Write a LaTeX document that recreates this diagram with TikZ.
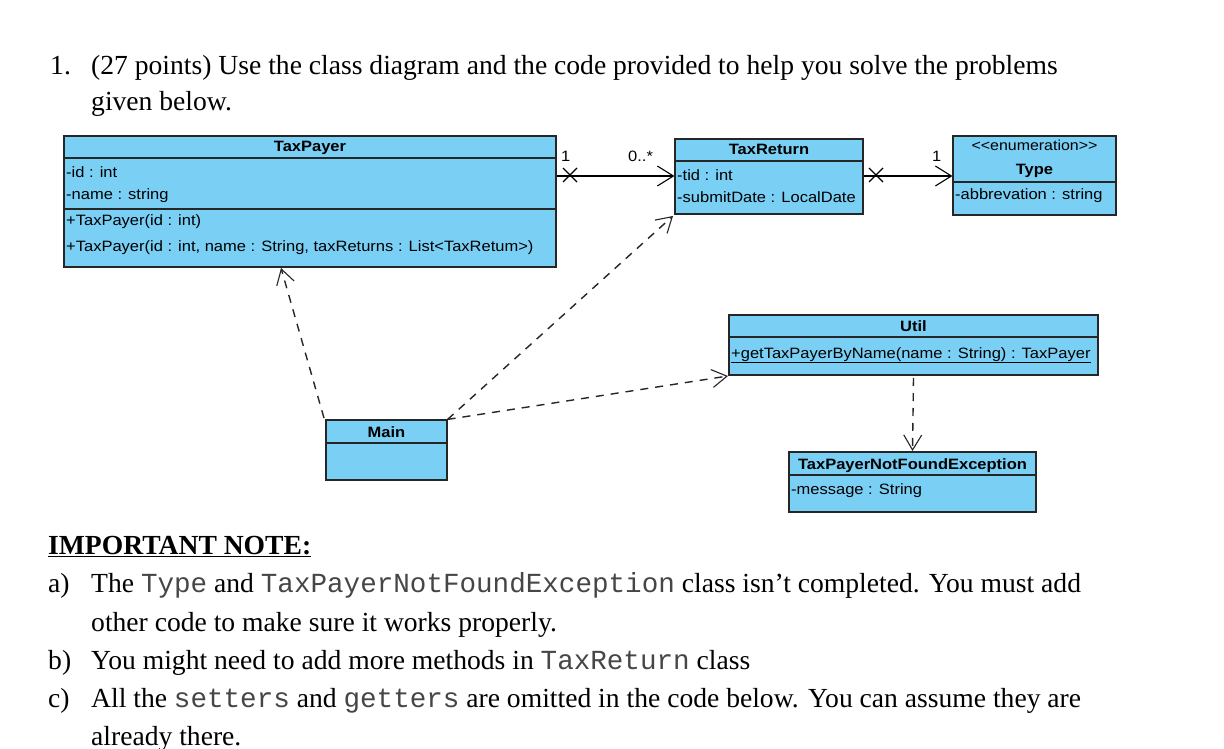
\documentclass[tikz,border=0pt]{standalone}
\usepackage{fontspec}
\setmainfont{Liberation Serif}
\setsansfont{Liberation Sans}[FakeStretch=1.1]
\setmonofont{Liberation Mono}
\usetikzlibrary{arrows.meta}
\definecolor{clsblue}{RGB}{122,207,245}
\definecolor{codegray}{RGB}{70,70,70}
\tikzset{
  cls/.style={draw=black!85, line width=1.2pt, fill=clsblue, inner sep=0pt},
  sep/.style={draw=black!85, line width=1.2pt},
  ttl/.style={font=\sffamily\bfseries\fontsize{15}{17}\selectfont, inner sep=0pt, anchor=base},
  attr/.style={font=\sffamily\fontsize{15}{17}\selectfont, inner sep=0pt, anchor=base west},
  body/.style={font=\fontsize{27.6}{32}\selectfont, inner sep=0pt, anchor=base west},
  assoc/.style={draw=black, line width=1.1pt, -{Straight Barb[length=16pt,width=20pt,line width=1.1pt]}},
  dep/.style={draw=black!85, line width=1.4pt, dash pattern=on 8pt off 7pt, -{Straight Barb[length=15pt,width=18pt,line width=1.1pt]}},
  xmark/.style={draw=black, line width=1.1pt}
}
\newcommand{\cd}[1]{{\ttfamily\color{codegray}#1}}
\begin{document}
\begin{tikzpicture}[x=1pt,y=-1pt]
\path[use as bounding box, fill=white] (0,0) rectangle (1224,749);

% title
\node[body] (n1) at (50,75) {1.};
\node[body] (t1) at (91,75) {(27 points) Use the class diagram and the code provided to help you solve the problems};
\node[body] (t2) at (91,111) {given below.};

% TaxPayer
\node[cls, minimum width=492pt, minimum height=131pt] (tp) at (310,201.5) {};
\draw[sep] (64,158) -- (556,158);
\draw[sep] (64,209) -- (556,209);
\node[ttl] (tpn) at (310,152) {TaxPayer};
\node[attr] (tpa1) at (66,178) {-id : int};
\node[attr] (tpa2) at (66,200) {-name : string};
\node[attr] (tpm1) at (66,225) {+TaxPayer(id : int)};
\node[attr] (tpm2) at (66,251) {+TaxPayer(id : int, name : String, taxReturns : List<TaxRetum>)};

% TaxReturn
\node[cls, minimum width=188pt, minimum height=75pt] (tr) at (769,176.5) {};
\draw[sep] (675,161) -- (863,161);
\node[ttl] (trn) at (769,155) {TaxReturn};
\node[attr] (tra1) at (677,180) {-tid : int};
\node[attr] (tra2) at (677,203) {-submitDate : LocalDate};

% Type
\node[cls, minimum width=163pt, minimum height=79pt] (ty) at (1034.5,175.5) {};
\draw[sep] (953,182) -- (1116,182);
\node[ttl, font=\sffamily\fontsize{14.5}{16}\selectfont] (tys) at (1034.5,151) {{<}{<}enumeration{>}{>}};
\node[ttl] (tyn) at (1034.5,175) {Type};
\node[attr] (tya1) at (955,200) {-abbrevation : string};

% Util
\node[cls, minimum width=369pt, minimum height=60pt] (ut) at (913.5,345) {};
\draw[sep] (729,337) -- (1098,337);
\node[ttl] (utn) at (913.5,331) {Util};
\node[attr] (utm1) at (731,358) {\underline{+getTaxPayerByName(name : String) : TaxPayer}};

% Main
\node[cls, minimum width=121pt, minimum height=60pt] (mn) at (386.5,450) {};
\draw[sep] (326,443) -- (447,443);
\node[ttl] (mnn) at (386.5,437) {Main};

% TaxPayerNotFoundException
\node[cls, minimum width=247pt, minimum height=60pt] (ex) at (912.5,482) {};
\draw[sep] (789,475) -- (1036,475);
\node[ttl] (exn) at (912.5,469) {TaxPayerNotFoundException};
\node[attr] (exa1) at (791,494) {-message : String};

% associations
\draw[assoc] (tp.east |- 0,176) -- (tr.west |- 0,176);
\draw[xmark] (563,168) -- (577,182) (563,182) -- (577,168);
\node[attr] (m1) at (561,161) {1};
\node[attr] (m2) at (628,161) {0..*};
\draw[assoc] (tr.east |- 0,176) -- (ty.west |- 0,176);
\draw[xmark] (869,168) -- (883,182) (869,182) -- (883,168);
\node[attr] (m3) at (932,162) {1};

% dependencies
\coordinate (mtl) at (324,418);
\draw[dep] (mtl) -- (281,268);
\draw[dep] (mn.north east) -- (673,216);
\draw[dep] (mn.north east) -- (728,376);
\draw[dep] (ut.south |- 0,378) -- (ex.north |- 0,451);

% notes
\node[body, font=\bfseries\fontsize{27.6}{32}\selectfont] (imp) at (48,554) {\underline{IMPORTANT NOTE:}};
\node[body] (la) at (48,592) {a)};
\node[body] (ta) at (91,592) {The \cd{Type} and \cd{TaxPayerNotFoundException} class isn’t completed. You must add};
\node[body] (ta2) at (91,631) {other code to make sure it works properly.};
\node[body] (lb) at (48,669) {b)};
\node[body] (tb) at (91,669) {You might need to add more methods in \cd{TaxReturn} class};
\node[body] (lc) at (48,707) {c)};
\node[body] (tc) at (91,707) {All the \cd{setters} and \cd{getters} are omitted in the code below. You can assume they are};
\node[body] (tc2) at (91,745) {already there.};
\end{tikzpicture}
\end{document}
